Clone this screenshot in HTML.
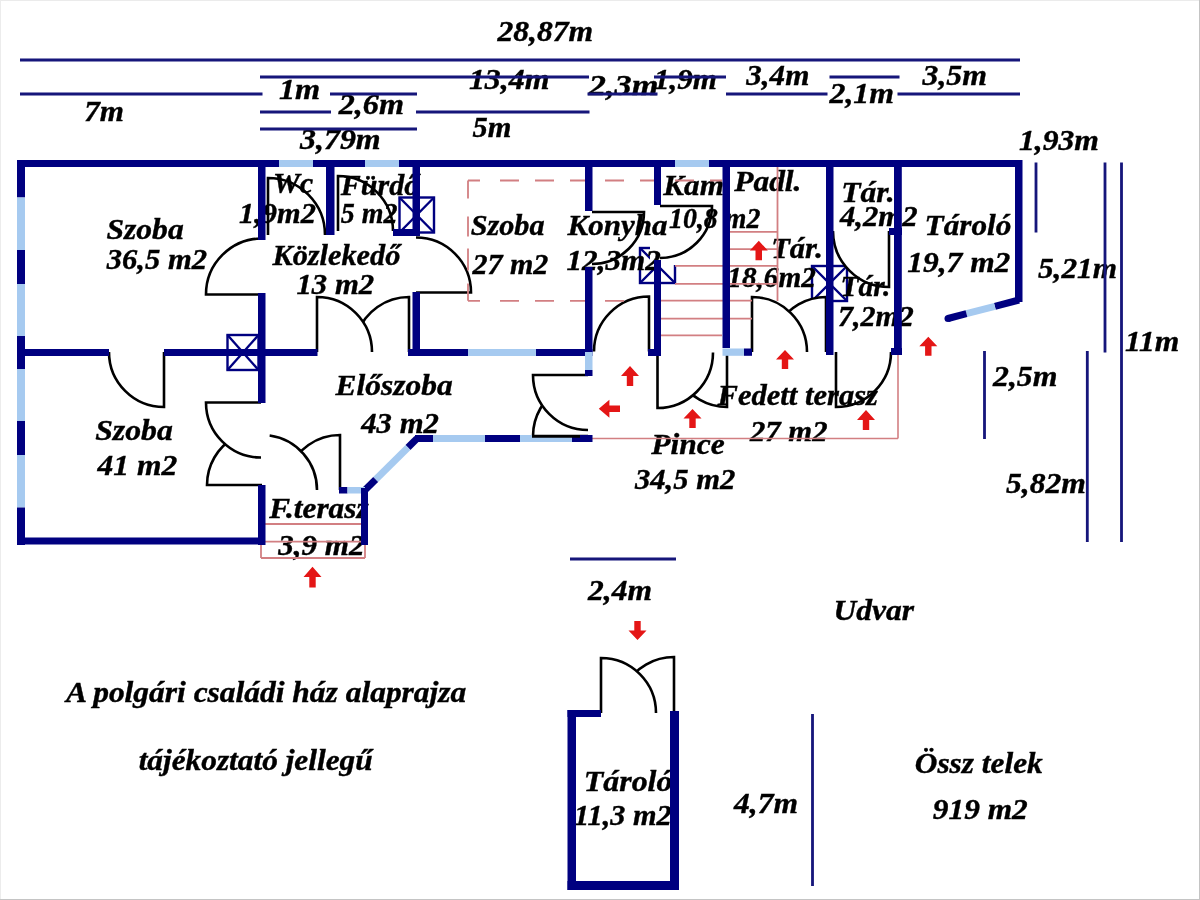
<!DOCTYPE html>
<html><head><meta charset="utf-8"><style>
html,body{margin:0;padding:0;background:#fff;}
body{width:1200px;height:900px;overflow:hidden;position:relative;}
svg{position:absolute;left:0;top:0;}
text{font-family:"Liberation Serif",serif;font-weight:bold;font-style:italic;fill:#000;stroke:#000;stroke-width:0.4px;}
</style></head><body>
<svg width="1200" height="900" viewBox="0 0 1200 900">
<defs><filter id="soft" x="0" y="0" width="1200" height="900" filterUnits="userSpaceOnUse"><feGaussianBlur stdDeviation="0.4"/></filter></defs>
<rect x="0" y="0" width="1200" height="900" fill="#fff"/>
<g filter="url(#soft)">
<rect x="0" y="0" width="1200" height="900" fill="#fff"/>
<g stroke="#000080" stroke-width="2.4" fill="none"><rect x="227.5" y="335" width="31.0" height="35"/><line x1="227.5" y1="335" x2="258.5" y2="370"/><line x1="258.5" y1="335" x2="227.5" y2="370"/></g>
<g stroke="#000080" stroke-width="2.4" fill="none"><rect x="399.5" y="197.5" width="34.5" height="35.0"/><line x1="399.5" y1="197.5" x2="434" y2="232.5"/><line x1="434" y1="197.5" x2="399.5" y2="232.5"/></g>
<g stroke="#000080" stroke-width="2.4" fill="none"><rect x="640" y="248" width="35" height="35"/><line x1="640" y1="248" x2="675" y2="283"/><line x1="675" y1="248" x2="640" y2="283"/></g>
<rect x="650" y="245" width="27" height="20" fill="#fff"/>
<g stroke="#000080" stroke-width="2.4" fill="none"><rect x="812" y="266" width="35" height="35"/><line x1="812" y1="266" x2="847" y2="301"/><line x1="847" y1="266" x2="812" y2="301"/></g>
<path d="M262.00,294.50 L206.00,294.50 A56,56 0 0 1 262.00,238.50" fill="#fff" stroke="#000" stroke-width="2.6" stroke-linejoin="miter"/>
<path d="M268.00,235.00 L268.00,178.00 A57,57 0 0 1 325.00,235.00" fill="#fff" stroke="#000" stroke-width="2.6" stroke-linejoin="miter"/>
<path d="M338.00,231.00 L338.00,176.00 A55,55 0 0 1 393.00,231.00" fill="#fff" stroke="#000" stroke-width="2.6" stroke-linejoin="miter"/>
<path d="M416.00,292.50 L471.00,292.50 A55,55 0 0 0 416.00,237.50" fill="#fff" stroke="#000" stroke-width="2.6" stroke-linejoin="miter"/>
<path d="M592.00,212.00 L644.00,212.00 A52,52 0 0 1 592.00,264.00" fill="#fff" stroke="#000" stroke-width="2.6" stroke-linejoin="miter"/>
<path d="M660.00,206.00 L712.00,206.00 A52,52 0 0 1 660.00,258.00" fill="#fff" stroke="#000" stroke-width="2.6" stroke-linejoin="miter"/>
<path d="M889.00,231.00 L889.00,287.00 A56,56 0 0 1 833.00,231.00" fill="#fff" stroke="#000" stroke-width="2.6" stroke-linejoin="miter"/>
<path d="M164.00,352.00 L164.00,407.00 A55,55 0 0 1 109.00,352.00" fill="#fff" stroke="#000" stroke-width="2.6" stroke-linejoin="miter"/>
<path d="M262.00,485.00 L207.00,485.00 A55,55 0 0 1 234.50,437.37" fill="#fff" stroke="#000" stroke-width="2.6" stroke-linejoin="miter"/>
<path d="M261.00,402.50 L206.00,402.50 A55,55 0 0 0 261.00,457.50" fill="#fff" stroke="#000" stroke-width="2.6" stroke-linejoin="miter"/>
<path d="M340.00,490.00 L340.00,435.00 A55,55 0 0 0 288.32,471.19" fill="#fff" stroke="#000" stroke-width="2.6" stroke-linejoin="miter"/>
<path d="M262,490 L269.65,435.54 A55,55 0 0 1 317.00,490.00 Z" fill="#fff"/>
<path d="M269.65,435.54 A55,55 0 0 1 317.00,490.00" fill="none" stroke="#000" stroke-width="2.6"/>
<path d="M409.00,352.00 L409.00,297.00 A55,55 0 0 0 357.32,333.19" fill="#fff" stroke="#000" stroke-width="2.6" stroke-linejoin="miter"/>
<path d="M317.00,352.00 L317.00,297.00 A55,55 0 0 1 372.00,352.00" fill="#fff" stroke="#000" stroke-width="2.6" stroke-linejoin="miter"/>
<path d="M588.00,436.00 L533.00,436.00 A55,55 0 0 1 560.50,388.37" fill="#fff" stroke="#000" stroke-width="2.6" stroke-linejoin="miter"/>
<path d="M588.00,375.00 L533.00,375.00 A55,55 0 0 0 588.00,430.00" fill="#fff" stroke="#000" stroke-width="2.6" stroke-linejoin="miter"/>
<path d="M649.00,351.50 L649.00,296.50 A55,55 0 0 0 594.00,351.50" fill="#fff" stroke="#000" stroke-width="2.6" stroke-linejoin="miter"/>
<path d="M727.00,352.00 L727.00,407.00 A55,55 0 0 1 679.37,379.50" fill="#fff" stroke="#000" stroke-width="2.6" stroke-linejoin="miter"/>
<path d="M657.50,352.50 L657.50,408.00 A55.5,55.5 0 0 0 713.00,352.50" fill="#fff" stroke="#000" stroke-width="2.6" stroke-linejoin="miter"/>
<path d="M826.00,352.00 L826.00,297.00 A55,55 0 0 0 778.37,324.50" fill="#fff" stroke="#000" stroke-width="2.6" stroke-linejoin="miter"/>
<path d="M752.00,352.00 L752.00,297.00 A55,55 0 0 1 807.00,352.00" fill="#fff" stroke="#000" stroke-width="2.6" stroke-linejoin="miter"/>
<path d="M836.00,352.00 L836.00,407.00 A55,55 0 0 0 891.00,352.00" fill="#fff" stroke="#000" stroke-width="2.6" stroke-linejoin="miter"/>
<path d="M674.00,713.00 L674.00,657.00 A56,56 0 0 0 625.50,685.00" fill="#fff" stroke="#000" stroke-width="2.6" stroke-linejoin="miter"/>
<path d="M601.00,713.00 L601.00,658.00 A55,55 0 0 1 656.00,713.00" fill="#fff" stroke="#000" stroke-width="2.6" stroke-linejoin="miter"/>
<g><text x="497.50" y="41.25" textLength="95.69" lengthAdjust="spacingAndGlyphs" font-size="30">28,87m</text>
<text x="468.94" y="88.75" textLength="80.52" lengthAdjust="spacingAndGlyphs" font-size="30">13,4m</text>
<text x="588.75" y="95" textLength="69.61" lengthAdjust="spacingAndGlyphs" font-size="30">2,3m</text>
<text x="653.97" y="88.75" textLength="62.94" lengthAdjust="spacingAndGlyphs" font-size="30">1,9m</text>
<text x="746.25" y="85" textLength="63.16" lengthAdjust="spacingAndGlyphs" font-size="30">3,4m</text>
<text x="829.50" y="102.5" textLength="64.45" lengthAdjust="spacingAndGlyphs" font-size="30">2,1m</text>
<text x="922.50" y="85" textLength="64.45" lengthAdjust="spacingAndGlyphs" font-size="30">3,5m</text>
<text x="84.18" y="121.25" textLength="39.71" lengthAdjust="spacingAndGlyphs" font-size="30">7m</text>
<text x="278.92" y="98.75" textLength="41.27" lengthAdjust="spacingAndGlyphs" font-size="30">1m</text>
<text x="338.75" y="113.75" textLength="65.23" lengthAdjust="spacingAndGlyphs" font-size="30">2,6m</text>
<text x="472.50" y="137.3" textLength="38.86" lengthAdjust="spacingAndGlyphs" font-size="30">5m</text>
<text x="300.00" y="148.75" textLength="80.71" lengthAdjust="spacingAndGlyphs" font-size="30">3,79m</text>
<text x="1018.95" y="150" textLength="80.00" lengthAdjust="spacingAndGlyphs" font-size="30">1,93m</text>
<text x="1038.00" y="277.5" textLength="78.92" lengthAdjust="spacingAndGlyphs" font-size="30">5,21m</text>
<text x="1124.95" y="351" textLength="54.32" lengthAdjust="spacingAndGlyphs" font-size="30">11m</text>
<text x="993.00" y="386" textLength="64.45" lengthAdjust="spacingAndGlyphs" font-size="30">2,5m</text>
<text x="1006.00" y="492.5" textLength="79.94" lengthAdjust="spacingAndGlyphs" font-size="30">5,82m</text>
<text x="588.00" y="600" textLength="63.94" lengthAdjust="spacingAndGlyphs" font-size="30">2,4m</text>
<text x="734.00" y="812.5" textLength="63.94" lengthAdjust="spacingAndGlyphs" font-size="30">4,7m</text>
<text x="106.45" y="239.2" textLength="77.23" lengthAdjust="spacingAndGlyphs" font-size="30">Szoba</text>
<text x="106.70" y="269.2" textLength="100.35" lengthAdjust="spacingAndGlyphs" font-size="30">36,5 m2</text>
<text x="272.98" y="193.3" textLength="40.32" lengthAdjust="spacingAndGlyphs" font-size="30">Wc</text>
<text x="238.99" y="223.3" textLength="76.87" lengthAdjust="spacingAndGlyphs" font-size="30">1,9m2</text>
<text x="340.80" y="195" textLength="78.38" lengthAdjust="spacingAndGlyphs" font-size="30">Fürdő</text>
<text x="340.80" y="222.5" textLength="56.69" lengthAdjust="spacingAndGlyphs" font-size="30">5 m2</text>
<text x="272.50" y="265" textLength="127.84" lengthAdjust="spacingAndGlyphs" font-size="30">Közlekedő</text>
<text x="296.48" y="294.2" textLength="77.69" lengthAdjust="spacingAndGlyphs" font-size="30">13 m2</text>
<text x="470.69" y="235" textLength="73.87" lengthAdjust="spacingAndGlyphs" font-size="30">Szoba</text>
<text x="472.50" y="274.2" textLength="75.84" lengthAdjust="spacingAndGlyphs" font-size="30">27 m2</text>
<text x="567.50" y="235" textLength="99.93" lengthAdjust="spacingAndGlyphs" font-size="30">Konyha</text>
<text x="566.46" y="270" textLength="94.42" lengthAdjust="spacingAndGlyphs" font-size="30">12,3m2</text>
<text x="663.30" y="195" textLength="60.61" lengthAdjust="spacingAndGlyphs" font-size="30">Kam</text>
<text x="669.07" y="227.5" textLength="91.25" lengthAdjust="spacingAndGlyphs" font-size="30">10,8 m2</text>
<text x="734.20" y="190.8" textLength="67.28" lengthAdjust="spacingAndGlyphs" font-size="30">Padl.</text>
<text x="771.27" y="258.3" textLength="51.63" lengthAdjust="spacingAndGlyphs" font-size="30">Tár.</text>
<text x="727.33" y="286.7" textLength="88.50" lengthAdjust="spacingAndGlyphs" font-size="30">18,6m2</text>
<text x="841.20" y="201.7" textLength="53.51" lengthAdjust="spacingAndGlyphs" font-size="30">Tár.</text>
<text x="840.00" y="225.8" textLength="77.56" lengthAdjust="spacingAndGlyphs" font-size="30">4,2m2</text>
<text x="924.62" y="235" textLength="86.78" lengthAdjust="spacingAndGlyphs" font-size="30">Tároló</text>
<text x="907.25" y="271.7" textLength="103.11" lengthAdjust="spacingAndGlyphs" font-size="30">19,7 m2</text>
<text x="840.54" y="295.6" textLength="49.75" lengthAdjust="spacingAndGlyphs" font-size="30">Tár.</text>
<text x="838.00" y="325.6" textLength="75.84" lengthAdjust="spacingAndGlyphs" font-size="30">7,2m2</text>
<text x="335.60" y="395" textLength="117.04" lengthAdjust="spacingAndGlyphs" font-size="30">Előszoba</text>
<text x="361.25" y="432.5" textLength="77.71" lengthAdjust="spacingAndGlyphs" font-size="30">43 m2</text>
<text x="95.19" y="440" textLength="77.69" lengthAdjust="spacingAndGlyphs" font-size="30">Szoba</text>
<text x="97.50" y="475" textLength="79.64" lengthAdjust="spacingAndGlyphs" font-size="30">41 m2</text>
<text x="269.20" y="517.5" textLength="99.44" lengthAdjust="spacingAndGlyphs" font-size="30">F.terasz</text>
<text x="278.30" y="555" textLength="86.26" lengthAdjust="spacingAndGlyphs" font-size="30">3,9 m2</text>
<text x="651.25" y="453.75" textLength="73.53" lengthAdjust="spacingAndGlyphs" font-size="30">Pince</text>
<text x="635.00" y="488.75" textLength="100.35" lengthAdjust="spacingAndGlyphs" font-size="30">34,5 m2</text>
<text x="717.50" y="405" textLength="160.51" lengthAdjust="spacingAndGlyphs" font-size="30">Fedett terasz</text>
<text x="750.00" y="440.8" textLength="77.56" lengthAdjust="spacingAndGlyphs" font-size="30">27 m2</text>
<text x="833.55" y="620.3" textLength="80.49" lengthAdjust="spacingAndGlyphs" font-size="30">Udvar</text>
<text x="66.05" y="702" textLength="400.24" lengthAdjust="spacingAndGlyphs" font-size="30">A polgári családi ház alaprajza</text>
<text x="138.66" y="770" textLength="233.96" lengthAdjust="spacingAndGlyphs" font-size="30">tájékoztató jellegű</text>
<text x="583.88" y="791" textLength="88.55" lengthAdjust="spacingAndGlyphs" font-size="30">Tároló</text>
<text x="573.99" y="825" textLength="97.71" lengthAdjust="spacingAndGlyphs" font-size="30">11,3 m2</text>
<text x="914.76" y="773" textLength="127.97" lengthAdjust="spacingAndGlyphs" font-size="30">Össz telek</text>
<text x="932.86" y="818.9" textLength="94.93" lengthAdjust="spacingAndGlyphs" font-size="30">919 m2</text></g>
<line x1="468" y1="180.5" x2="722" y2="180.5" stroke="#d27f82" stroke-width="1.8" stroke-dasharray="12 20 19 16 19 16 19 16 19 16 19 16 19 16"/>
<line x1="468" y1="180.5" x2="468" y2="300.8" stroke="#d27f82" stroke-width="1.8" stroke-dasharray="18 18 20 12 22 13 20 15"/>
<line x1="468" y1="300.8" x2="626" y2="300.8" stroke="#d27f82" stroke-width="1.8" stroke-dasharray="12 20 19 16 19 16 19 16 19 16 19 16 19 16"/>
<line x1="730" y1="231.8" x2="777.5" y2="231.8" stroke="#d27f82" stroke-width="1.8"/>
<line x1="730" y1="249.2" x2="777.5" y2="249.2" stroke="#d27f82" stroke-width="1.8"/>
<line x1="675" y1="265.8" x2="777.5" y2="265.8" stroke="#d27f82" stroke-width="1.8"/>
<line x1="675" y1="283.9" x2="777.5" y2="283.9" stroke="#d27f82" stroke-width="1.8"/>
<line x1="661" y1="300.6" x2="752" y2="300.6" stroke="#d27f82" stroke-width="1.8"/>
<line x1="661" y1="318.6" x2="752" y2="318.6" stroke="#d27f82" stroke-width="1.8"/>
<line x1="661" y1="335.3" x2="722" y2="335.3" stroke="#d27f82" stroke-width="1.8"/>
<line x1="777.5" y1="167" x2="777.5" y2="301" stroke="#d27f82" stroke-width="1.8"/>
<line x1="592" y1="438.5" x2="898" y2="438.5" stroke="#d27f82" stroke-width="1.6"/>
<line x1="898" y1="355" x2="898" y2="438.5" stroke="#d27f82" stroke-width="1.6"/>
<line x1="265" y1="524" x2="362" y2="524" stroke="#d27f82" stroke-width="1.8"/>
<line x1="261" y1="541.7" x2="365" y2="541.7" stroke="#d27f82" stroke-width="1.8"/>
<line x1="261" y1="558" x2="365" y2="558" stroke="#d27f82" stroke-width="1.8"/>
<line x1="261" y1="541.7" x2="261" y2="558" stroke="#d27f82" stroke-width="1.8"/>
<line x1="365" y1="541.7" x2="365" y2="558" stroke="#d27f82" stroke-width="1.8"/>
<rect x="17.00" y="160.00" width="262.00" height="7.00" fill="#000080"/>
<rect x="279.00" y="160.00" width="34.00" height="7.00" fill="#a6caf0"/>
<rect x="313.00" y="160.00" width="52.00" height="7.00" fill="#000080"/>
<rect x="365.00" y="160.00" width="34.00" height="7.00" fill="#a6caf0"/>
<rect x="399.00" y="160.00" width="276.00" height="7.00" fill="#000080"/>
<rect x="675.00" y="160.00" width="34.00" height="7.00" fill="#a6caf0"/>
<rect x="709.00" y="160.00" width="313.00" height="7.00" fill="#000080"/>
<rect x="17.00" y="160.00" width="8.00" height="37.50" fill="#000080"/>
<rect x="17.00" y="197.50" width="8.00" height="52.50" fill="#a6caf0"/>
<rect x="17.00" y="250.00" width="8.00" height="34.00" fill="#000080"/>
<rect x="17.00" y="284.00" width="8.00" height="52.00" fill="#a6caf0"/>
<rect x="17.00" y="336.00" width="8.00" height="33.00" fill="#000080"/>
<rect x="17.00" y="369.00" width="8.00" height="52.00" fill="#a6caf0"/>
<rect x="17.00" y="421.00" width="8.00" height="34.00" fill="#000080"/>
<rect x="17.00" y="455.00" width="8.00" height="52.50" fill="#a6caf0"/>
<rect x="17.00" y="507.50" width="8.00" height="37.50" fill="#000080"/>
<rect x="17.00" y="537.50" width="248.00" height="7.00" fill="#000080"/>
<rect x="258.00" y="160.00" width="7.50" height="80.00" fill="#000080"/>
<rect x="258.00" y="293.00" width="7.50" height="110.00" fill="#000080"/>
<rect x="258.00" y="485.00" width="7.50" height="60.00" fill="#000080"/>
<rect x="17.00" y="349.00" width="92.00" height="7.00" fill="#000080"/>
<rect x="164.00" y="349.00" width="153.50" height="7.00" fill="#000080"/>
<rect x="408.00" y="349.00" width="60.00" height="7.00" fill="#000080"/>
<rect x="468.00" y="349.00" width="68.00" height="7.00" fill="#a6caf0"/>
<rect x="536.00" y="349.00" width="56.50" height="7.00" fill="#000080"/>
<rect x="326.00" y="160.00" width="8.50" height="75.00" fill="#000080"/>
<rect x="412.50" y="160.00" width="7.50" height="76.00" fill="#000080"/>
<rect x="412.50" y="292.00" width="7.50" height="64.00" fill="#000080"/>
<rect x="393.00" y="229.00" width="27.00" height="7.00" fill="#000080"/>
<rect x="585.00" y="160.00" width="7.50" height="51.00" fill="#000080"/>
<rect x="585.00" y="267.00" width="7.50" height="85.00" fill="#000080"/>
<rect x="585.00" y="352.00" width="7.50" height="18.00" fill="#a6caf0"/>
<rect x="585.00" y="370.00" width="7.50" height="6.00" fill="#000080"/>
<rect x="654.00" y="160.00" width="7.00" height="45.00" fill="#000080"/>
<rect x="654.00" y="260.00" width="7.00" height="95.00" fill="#000080"/>
<rect x="648.00" y="349.00" width="13.00" height="7.00" fill="#000080"/>
<rect x="722.50" y="160.00" width="7.50" height="188.00" fill="#000080"/>
<rect x="722.50" y="348.50" width="21.50" height="7.30" fill="#a6caf0"/>
<rect x="744.00" y="348.50" width="8.00" height="7.30" fill="#000080"/>
<rect x="826.00" y="160.00" width="7.50" height="195.00" fill="#000080"/>
<rect x="894.00" y="160.00" width="7.80" height="195.00" fill="#000080"/>
<rect x="889.00" y="228.00" width="13.00" height="7.00" fill="#000080"/>
<rect x="891.00" y="348.00" width="11.00" height="7.00" fill="#000080"/>
<rect x="1015.00" y="160.00" width="7.50" height="142.00" fill="#000080"/>
<line x1="1019.00" y1="300.00" x2="994.86" y2="306.29" stroke="#000080" stroke-width="7"/>
<line x1="994.86" y1="306.29" x2="966.46" y2="313.69" stroke="#a6caf0" stroke-width="7"/>
<line x1="966.46" y1="313.69" x2="948.00" y2="318.50" stroke="#000080" stroke-width="7"/>
<circle cx="948" cy="318.5" r="3.5" fill="#000080"/>
<rect x="415.00" y="435.00" width="18.00" height="7.00" fill="#000080"/>
<rect x="433.00" y="435.00" width="52.00" height="7.00" fill="#a6caf0"/>
<rect x="485.00" y="435.00" width="35.00" height="7.00" fill="#000080"/>
<rect x="520.00" y="435.00" width="52.00" height="7.00" fill="#a6caf0"/>
<rect x="572.00" y="435.00" width="20.50" height="7.00" fill="#000080"/>
<line x1="417.00" y1="438.50" x2="407.99" y2="447.43" stroke="#000080" stroke-width="7"/>
<line x1="407.99" y1="447.43" x2="375.66" y2="479.45" stroke="#a6caf0" stroke-width="7"/>
<line x1="375.66" y1="479.45" x2="364.00" y2="491.00" stroke="#000080" stroke-width="7"/>
<rect x="339.00" y="487.00" width="8.50" height="6.50" fill="#000080"/>
<rect x="347.50" y="487.00" width="17.50" height="6.50" fill="#a6caf0"/>
<rect x="361.00" y="488.00" width="7.00" height="57.00" fill="#000080"/>
<rect x="567.50" y="710.00" width="33.50" height="7.00" fill="#000080"/>
<rect x="567.50" y="710.00" width="8.50" height="180.00" fill="#000080"/>
<rect x="670.00" y="711.00" width="9.00" height="179.00" fill="#000080"/>
<rect x="567.50" y="881.00" width="111.50" height="9.00" fill="#000080"/>
<line x1="532" y1="436.3" x2="580" y2="436.3" stroke="#000" stroke-width="2.8"/>
<line x1="20" y1="60" x2="1020" y2="60" stroke="#12127a" stroke-width="2.8" />
<line x1="260" y1="77" x2="589" y2="77" stroke="#12127a" stroke-width="2.8" />
<line x1="654" y1="77" x2="726" y2="77" stroke="#12127a" stroke-width="2.8" />
<line x1="829.5" y1="77" x2="899.5" y2="77" stroke="#12127a" stroke-width="2.8" />
<line x1="20" y1="94" x2="262.5" y2="94" stroke="#12127a" stroke-width="2.8" />
<line x1="330" y1="94" x2="417" y2="94" stroke="#12127a" stroke-width="2.8" />
<line x1="587.5" y1="94" x2="657.5" y2="94" stroke="#12127a" stroke-width="2.8" />
<line x1="726" y1="94" x2="827.5" y2="94" stroke="#12127a" stroke-width="2.8" />
<line x1="897.5" y1="94" x2="1020" y2="94" stroke="#12127a" stroke-width="2.8" />
<line x1="260" y1="112" x2="331" y2="112" stroke="#12127a" stroke-width="2.8" />
<line x1="416" y1="112" x2="589.5" y2="112" stroke="#12127a" stroke-width="2.8" />
<line x1="260" y1="129" x2="417" y2="129" stroke="#12127a" stroke-width="2.8" />
<line x1="570" y1="559" x2="676" y2="559" stroke="#12127a" stroke-width="2.8" />
<line x1="1036" y1="162.5" x2="1036" y2="232.5" stroke="#12127a" stroke-width="2.8" />
<line x1="1105" y1="162.5" x2="1105" y2="352.5" stroke="#12127a" stroke-width="2.8" />
<line x1="1121.5" y1="162.5" x2="1121.5" y2="542" stroke="#12127a" stroke-width="2.8" />
<line x1="984.5" y1="351" x2="984.5" y2="439" stroke="#12127a" stroke-width="2.8" />
<line x1="1087.3" y1="351" x2="1087.3" y2="542" stroke="#12127a" stroke-width="2.8" />
<line x1="812.5" y1="714" x2="812.5" y2="886" stroke="#12127a" stroke-width="2.8" />
<polygon points="758.8,240.8 767.8,250.6 762.0,250.6 762.0,260.3 755.5,260.3 755.5,250.6 749.8,250.6" fill="#e41414"/>
<polygon points="630.0,366.0 639.0,376.0 633.2,376.0 633.2,386.0 626.8,386.0 626.8,376.0 621.0,376.0" fill="#e41414"/>
<polygon points="598.8,408.8 609.4,399.8 609.4,405.6 620.0,405.6 620.0,411.9 609.4,411.9 609.4,417.8" fill="#e41414"/>
<polygon points="692.5,409.0 701.5,418.5 695.7,418.5 695.7,428.0 689.3,428.0 689.3,418.5 683.5,418.5" fill="#e41414"/>
<polygon points="785.0,350.0 794.0,359.5 788.2,359.5 788.2,369.0 781.8,369.0 781.8,359.5 776.0,359.5" fill="#e41414"/>
<polygon points="866.0,410.0 875.0,420.0 869.2,420.0 869.2,430.0 862.8,430.0 862.8,420.0 857.0,420.0" fill="#e41414"/>
<polygon points="928.3,336.7 937.3,346.2 931.5,346.2 931.5,355.8 925.1,355.8 925.1,346.2 919.3,346.2" fill="#e41414"/>
<polygon points="312.5,566.7 321.5,577.1 315.7,577.1 315.7,587.5 309.3,587.5 309.3,577.1 303.5,577.1" fill="#e41414"/>
<polygon points="637.5,640.0 646.5,630.5 640.7,630.5 640.7,621.0 634.3,621.0 634.3,630.5 628.5,630.5" fill="#e41414"/>
</g>
<rect x="0" y="0" width="1200" height="1" fill="#ebebeb"/>
<rect x="0" y="0" width="1" height="900" fill="#ececec"/>
<rect x="1199" y="0" width="1" height="900" fill="#c4c4c4"/>
<rect x="0" y="899" width="1200" height="1" fill="#c4c4c4"/>
</svg>
</body></html>
